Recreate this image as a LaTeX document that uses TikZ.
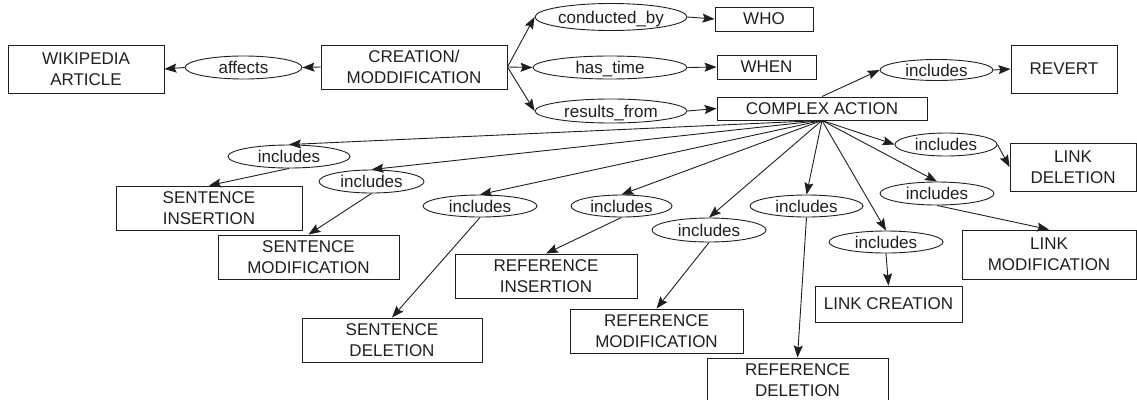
\documentclass[tikz,border=0pt]{standalone}
\usepackage{fontspec}
\setmainfont{Liberation Sans}
\usetikzlibrary{shapes.geometric,arrows.meta}
\definecolor{ink}{gray}{0.12}
\tikzset{
  box/.style={draw=ink, rectangle, inner sep=0pt, align=center, text=ink,
    font=\fontsize{17}{21}\selectfont},
  rel/.style={draw=ink, ellipse, inner sep=0pt, text=ink,
    text height=12.4pt, text depth=0pt, font=\fontsize{17}{21}\selectfont},
  link/.style={draw=ink, line width=0.9pt, -{Stealth[length=12pt,width=9pt,inset=2pt]}},
}
\begin{document}
\begin{tikzpicture}[x=1pt,y=-1pt]
\useasboundingbox (0,0) rectangle (1137,399);
\tikzset{every path/.append style={line width=0.9pt}}
% boxes
\node[box, minimum width=156pt, minimum height=48pt] (wiki) at (86,69) {WIKIPEDIA\\ARTICLE};
\node[box, minimum width=186pt, minimum height=44pt] (cre) at (414,67) {CREATION/\\MODDIFICATION};
\node[box, minimum width=98pt, minimum height=24pt] (who) at (764,19) {WHO};
\node[box, minimum width=99pt, minimum height=24pt] (when) at (766.5,67) {WHEN};
\node[box, minimum width=210pt, minimum height=23pt] (cx) at (822,108.5) {COMPLEX ACTION};
\node[box, minimum width=106pt, minimum height=48pt] (rev) at (1064,69) {REVERT};
\node[box, minimum width=126pt, minimum height=48pt] (ldel) at (1073,167) {LINK\\DELETION};
\node[box, minimum width=174pt, minimum height=49pt] (lmod) at (1049,254.5) {LINK\\MODIFICATION};
\node[box, minimum width=147pt, minimum height=36pt] (lcre) at (888.5,304) {LINK CREATION};
\node[box, minimum width=181pt, minimum height=44pt] (rdel) at (797.5,380) {REFERENCE\\DELETION};
\node[box, minimum width=173pt, minimum height=44pt] (rmod) at (656.5,331) {REFERENCE\\MODIFICATION};
\node[box, minimum width=182pt, minimum height=44pt] (rins) at (546,276) {REFERENCE\\INSERTION};
\node[box, minimum width=180pt, minimum height=44pt] (sdel) at (392,340) {SENTENCE\\DELETION};
\node[box, minimum width=181pt, minimum height=44pt] (smod) at (308.5,257) {SENTENCE\\MODIFICATION};
\node[box, minimum width=186pt, minimum height=44pt] (sins) at (209,208) {SENTENCE\\INSERTION};
% relation ellipses
\node[rel, minimum width=117pt, minimum height=23pt] (aff) at (243.5,67.5) {affects};
\node[rel, minimum width=152pt, minimum height=27pt] (cond) at (611,17) {conducted\_by};
\node[rel, minimum width=154pt, minimum height=23pt] (hast) at (610,67.5) {has\_time};
\node[rel, minimum width=152pt, minimum height=24pt] (resf) at (611,111) {results\_from};
\node[rel, minimum width=113pt, minimum height=21pt] (irev) at (936.5,70) {includes};
\node[rel, minimum width=102pt, minimum height=23pt] (ildel) at (946,144.5) {includes};
\node[rel, minimum width=114pt, minimum height=23pt] (ilmod) at (937,193.5) {includes};
\node[rel, minimum width=114pt, minimum height=22pt] (ilcre) at (886,242) {includes};
\node[rel, minimum width=113pt, minimum height=22pt] (irdel) at (806.5,206) {includes};
\node[rel, minimum width=114pt, minimum height=24pt] (irmod) at (709,230) {includes};
\node[rel, minimum width=101pt, minimum height=22pt] (irins) at (621.5,206) {includes};
\node[rel, minimum width=114pt, minimum height=22pt] (isdel) at (480,206) {includes};
\node[rel, minimum width=105pt, minimum height=23pt] (ismod) at (371.5,181.5) {includes};
\node[rel, minimum width=122pt, minimum height=23pt] (isins) at (289,156.5) {includes};
% top connectors
\draw[link] (cre.west) -- (aff.east);
\draw[link] (aff.west) -- (wiki.east);
\draw[link] (cre.east) -- (cond.west);
\draw[link] (cre.east) -- (hast.west);
\draw[link] (cre.east) -- (resf.west);
\draw[link] (cond.east) -- (who.west);
\draw[link] (hast.east) -- (when.west);
\draw[link] (resf.east) -- (cx.west);
\draw[link] (cx.north) -- (irev.west);
\draw[link] (irev.east) -- (rev.west);
% complex action fan
\draw[link] (cx.south) -- (ildel.west);
\draw[link] (cx.south) -- (ilmod.north);
\draw[link] (cx.south) -- (ilcre.north);
\draw[link] (cx.south) -- (irdel.north);
\draw[link] (cx.south) -- (irmod.north);
\draw[link] (cx.south) -- (irins.north);
\draw[link] (cx.south) -- (isdel.north);
\draw[link] (cx.south) -- (ismod.north);
\draw[link] (cx.south) -- (isins.north);
% ellipse to target
\draw[link] (ildel.east) -- (ldel.west);
\draw[link] (ilmod.south) -- (lmod.north);
\draw[link] (ilcre.south) -- (lcre.north);
\draw[link] (irdel.south) -- (rdel.north);
\draw[link] (irmod.south) -- (rmod.north);
\draw[link] (irins.south) -- (rins.north);
\draw[link] (isdel.south) -- (sdel.north);
\draw[link] (ismod.south) -- (smod.north);
\draw[link] (isins.south) -- (sins.north);
\end{tikzpicture}
\end{document}
